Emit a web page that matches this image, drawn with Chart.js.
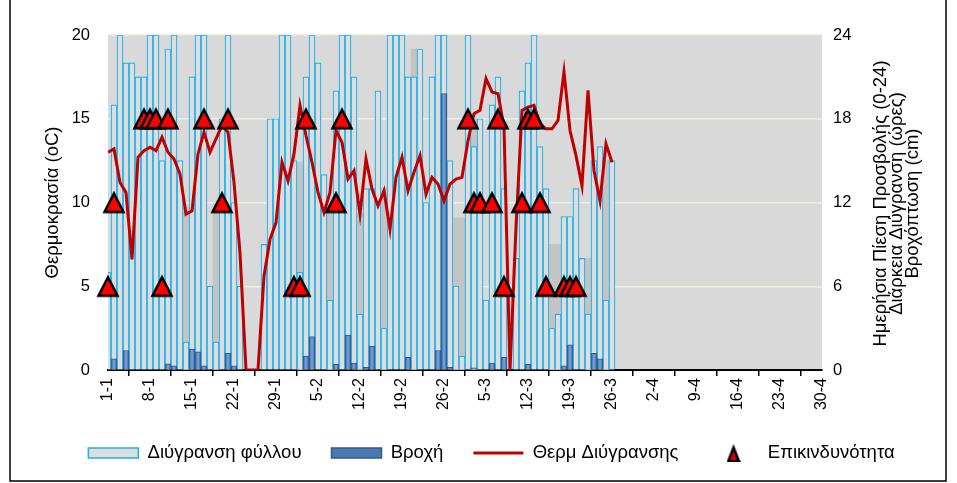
<!DOCTYPE html>
<html lang="el">
<head>
<meta charset="utf-8">
<title>Διύγρανση φύλλου</title>
<script src="https://cdn.jsdelivr.net/npm/chart.js@4.4.1/dist/chart.umd.min.js"></script>
<style>
  html, body { margin: 0; padding: 0; background: #fff; }
  canvas { display: block; }
</style>
</head>
<body>
<canvas id="chart" width="957" height="483"></canvas>
<script>
// x axis: day index from 1-1 (0) to 30-4 (119), a tick every 7 days
const tickLabels = ["1-1", "8-1", "15-1", "22-1", "29-1", "5-2", "12-2", "19-2", "26-2",
  "5-3", "12-3", "19-3", "26-3", "2-4", "9-4", "16-4", "23-4", "30-4"];

// hours of leaf wetness per day (right axis), 1-1 .. 26-3
const leafHours = [
  7, 19, 24, 22, 22, 21, 21, 24, 24, 15,
  23, 24, 15, 2, 21, 24, 24, 6, 2, 18,
  24, 12, 6, 0, 0, 0, 9, 18, 18, 24,
  24, 15, 7, 21, 24, 22, 14, 5, 20, 24,
  24, 21, 4, 13, 13, 20, 3, 24, 24, 24,
  21, 21, 23, 12, 21, 24, 24, 15, 6, 1,
  24, 16, 18, 5, 19, 21, 13, 0, 8, 20,
  22, 24, 16, 13, 3, 4, 11, 11, 13, 8,
  4, 15, 16, 5, 15
];

// daily infection pressure (right axis), only the days where it shows
// above the wetness bar
const pressureDays = [13, 18, 32, 37, 42, 46, 51, 58, 59, 61, 74, 75, 80, 83];
const pressureHours = [11.7, 11.9, 14.9, 11.6, 11.2, 13.0, 23.0, 10.9, 10.9, 18.0, 9, 9, 8, 15.0];

// rainfall (right axis)
const rain = [
  0, 0.8, 0, 1.4, 0, 0, 0, 0, 0, 0,
  0.45, 0.3, 0, 0, 1.5, 1.3, 0.3, 0, 0, 0,
  1.2, 0.3, 0, 0, 0, 0, 0, 0, 0, 0,
  0, 0, 0, 1.0, 2.4, 0, 0, 0, 0.4, 0,
  2.5, 0.5, 0, 0.2, 1.7, 0, 0, 0, 0, 0,
  0.9, 0, 0, 0, 0, 1.4, 19.8, 0.2, 0, 0,
  0, 0.15, 0, 0, 0.5, 0, 0.9, 0, 0, 0,
  0.4, 0, 0, 0, 0, 0, 0.3, 1.8, 0, 0,
  0, 1.2, 0.8, 0, 0
];

// temperature during wetness (left axis)
const wetTemp = [
  13.0, 13.2, 11.2, 10.6, 6.6, 12.7, 13.1, 13.3, 13.1, 13.9,
  13.0, 12.6, 11.7, 9.3, 9.5, 12.9, 14.2, 13.0, 13.8, 14.6,
  14.2, 11.2, 7.0, 0, 0, 0, 5.6, 7.8, 8.8, 12.4,
  11.3, 12.9, 15.8, 14.0, 12.4, 10.6, 9.4, 10.6, 14.3, 13.6,
  11.4, 11.9, 9.3, 12.6, 10.8, 9.8, 10.7, 8.4, 11.5, 12.7,
  10.7, 11.8, 12.8, 10.5, 11.5, 11.1, 10.1, 11.1, 11.4, 11.5,
  13.7, 15.3, 15.5, 17.4, 16.6, 16.5, 14.5, 0, 8.5, 15.5,
  15.7, 15.8, 14.7, 14.4, 14.4, 14.9, 17.8, 14.3, 12.8, 11.0,
  16.7, 11.9, 10.1, 13.5, 12.4
];

// risk markers: day index and level (left axis)
const riskDays = [0, 1, 6, 7, 8, 9, 10, 16, 19, 20, 31, 32, 33, 38, 39,
  60, 61, 62, 64, 65, 66, 69, 70, 71, 72, 73, 76, 77, 78];
const riskLevels = [5, 10, 15, 15, 15, 5, 15, 15, 10, 15, 5, 5, 15, 10, 15,
  15, 10, 10, 10, 15, 5, 10, 15, 15, 10, 5, 5, 5, 5];

const seriesNames = ["Διύγρανση φύλλου", "Βροχή", "Θερμ Διύγρανσης", "Επικινδυνότητα"];
const leftTitle = "Θερμοκρασία (oC)";
const rightTitleLines = ["Ημερήσια Πίεση Προσβολής (0-24)", "Διάρκεια Διύγρανση (ώρες)", "Βροχόπτωση (cm)"];

const FONT = "'Liberation Sans', Arial, sans-serif";
Chart.defaults.font.family = FONT;
Chart.defaults.font.size = 16;
Chart.defaults.color = "#000";

// red triangle marker with black outline
function makeTriangle() {
  const c = document.createElement("canvas");
  c.width = 24; c.height = 24;
  const g = c.getContext("2d");
  g.beginPath();
  g.moveTo(12, 3);
  g.lineTo(21.5, 21.5);
  g.lineTo(2.5, 21.5);
  g.closePath();
  g.fillStyle = "#FF0000";
  g.fill();
  g.lineWidth = 2.5;
  g.lineJoin = "miter";
  g.strokeStyle = "#000";
  g.stroke();
  return c;
}

function makeLegendTriangle() {
  const c = document.createElement("canvas");
  c.width = 14; c.height = 18;
  const g = c.getContext("2d");
  g.beginPath();
  g.moveTo(7, 0); g.lineTo(14, 18); g.lineTo(0, 18); g.closePath();
  g.fillStyle = "#000";
  g.fill();
  g.beginPath();
  g.moveTo(7, 7); g.lineTo(10.3, 16); g.lineTo(3.7, 16); g.closePath();
  g.fillStyle = "#E00000";
  g.fill();
  return c;
}

const triMarker = makeTriangle();
const legendTri = makeLegendTriangle();

// rain bars get a light stripe down the middle, like the 3-D columns
function rainFill(c) {
  const xs = c.chart.scales && c.chart.scales.x;
  if (!xs || !c.chart.chartArea) return "#4A78B2";
  const x = xs.getPixelForValue(c.dataIndex);
  const g = c.chart.ctx.createLinearGradient(x - 3, 0, x + 3, 0);
  g.addColorStop(0, "#335F98");
  g.addColorStop(0.5, "#7FA6D8");
  g.addColorStop(1, "#335F98");
  return g;
}

const plotBackground = {
  id: "plotBackground",
  beforeDraw(chart) {
    const { ctx, chartArea: a } = chart;
    ctx.save();
    ctx.fillStyle = "#D9D9D9";
    ctx.fillRect(a.left, a.top, a.right - a.left, a.bottom - a.top);
    ctx.restore();
  }
};

// right title reads bottom-to-top like the left one
const rightTitle = {
  id: "rightTitle",
  afterDraw(chart) {
    const { ctx, chartArea: a } = chart;
    const cy = (a.top + a.bottom) / 2 + 1;
    ctx.save();
    ctx.font = "18.5px " + FONT;
    ctx.fillStyle = "#000";
    ctx.textAlign = "center";
    ctx.textBaseline = "middle";
    rightTitleLines.forEach((t, i) => {
      ctx.save();
      ctx.translate(a.right + 59 + i * 16, cy);
      ctx.rotate(-Math.PI / 2);
      ctx.fillText(t, 0, 0);
      ctx.restore();
    });
    ctx.restore();
  }
};

const frame = {
  id: "frame",
  afterDraw(chart) {
    const { ctx } = chart;
    ctx.save();
    ctx.strokeStyle = "#000";
    ctx.lineWidth = 1.5;
    ctx.beginPath();
    ctx.moveTo(10, 0); ctx.lineTo(10, 481);
    ctx.lineTo(946, 481); ctx.lineTo(946, 0);
    ctx.stroke();
    ctx.restore();
  }
};

const toPoints = (arr) => arr.map((v, i) => ({ x: i, y: v === 0 ? null : v }));
const barShape = { barPercentage: 1, categoryPercentage: 1, grouped: false };

new Chart(document.getElementById("chart"), {
  type: "bar",
  data: {
    datasets: [
      {
        type: "line",
        label: seriesNames[3],
        data: riskDays.map((d, i) => ({ x: d, y: riskLevels[i] })),
        yAxisID: "y",
        showLine: false,
        pointStyle: triMarker,
        pointRadius: 11,
        clip: false,
        order: 0
      },
      {
        type: "line",
        label: seriesNames[2],
        data: wetTemp.map((v, i) => ({ x: i, y: v })),
        yAxisID: "y",
        borderColor: "#C00000",
        borderWidth: 3,
        pointRadius: 0,
        tension: 0,
        order: 1
      },
      {
        label: seriesNames[1],
        data: toPoints(rain),
        yAxisID: "y1",
        backgroundColor: rainFill,
        borderColor: "#2F5A8E",
        borderWidth: 1,
        ...barShape,
        order: 2
      },
      {
        label: seriesNames[0],
        data: toPoints(leafHours),
        yAxisID: "y1",
        backgroundColor: "#DDDDDD",
        borderColor: "#1DB2EC",
        borderWidth: 1.2,
        ...barShape,
        order: 3
      },
      {
        label: "Πίεση Προσβολής",
        data: pressureDays.map((d, i) => ({ x: d, y: pressureHours[i] })),
        yAxisID: "y1",
        backgroundColor: "#C4C4C4",
        borderWidth: 0,
        ...barShape,
        order: 4
      }
    ]
  },
  options: {
    responsive: false,
    animation: false,
    layout: { padding: { left: 26, right: 0, top: 35, bottom: 10.75 } },
    plugins: {
      tooltip: { enabled: false },
      legend: {
        position: "bottom",
        labels: {
          usePointStyle: true,
          pointStyleWidth: 50,
          boxHeight: 10,
          padding: 30,
          color: "#000",
          font: { size: 18.5 },
          generateLabels: () => [
            { text: seriesNames[0], pointStyle: "rect", fillStyle: "#DDDDDD", strokeStyle: "#1DB2EC", lineWidth: 1.5, hidden: false },
            { text: seriesNames[1], pointStyle: "rect", fillStyle: "#4A78B2", strokeStyle: "#2F5A8E", lineWidth: 1.5, hidden: false },
            { text: seriesNames[2], pointStyle: "line", fillStyle: "#C00000", strokeStyle: "#C00000", lineWidth: 3, hidden: false },
            { text: seriesNames[3], pointStyle: legendTri, fillStyle: "#FF0000", strokeStyle: "#000", lineWidth: 0, hidden: false }
          ]
        }
      }
    },
    scales: {
      x: {
        type: "linear",
        min: 0,
        max: 119,
        offset: false,
        afterFit: (s) => { s.height = 43.75; },
        ticks: {
          stepSize: 7,
          autoSkip: false,
          maxRotation: 90,
          minRotation: 90,
          padding: 2,
          font: { size: 16 },
          callback: (v) => tickLabels[v / 7]
        },
        grid: { drawOnChartArea: false, drawTicks: true, tickLength: 6, color: "#000", lineWidth: 1.5 },
        border: { display: true, color: "#000", width: 2 }
      },
      y: {
        position: "left",
        min: 0,
        max: 20,
        afterFit: (s) => { s.width = 82; },
        ticks: { stepSize: 5, padding: 18, font: { size: 16.5 } },
        grid: { color: "#EFEDE4", lineWidth: 1.4, drawTicks: false },
        border: { display: false },
        title: { display: true, text: leftTitle, padding: { top: 16, bottom: 0 }, font: { size: 18.5 } }
      },
      y1: {
        position: "right",
        min: 0,
        max: 24,
        afterFit: (s) => { s.width = 135; },
        ticks: { stepSize: 6, padding: 11, font: { size: 16.5 } },
        grid: { drawOnChartArea: false, drawTicks: false },
        border: { display: false }
      }
    }
  },
  plugins: [plotBackground, rightTitle, frame]
});
</script>
</body>
</html>
